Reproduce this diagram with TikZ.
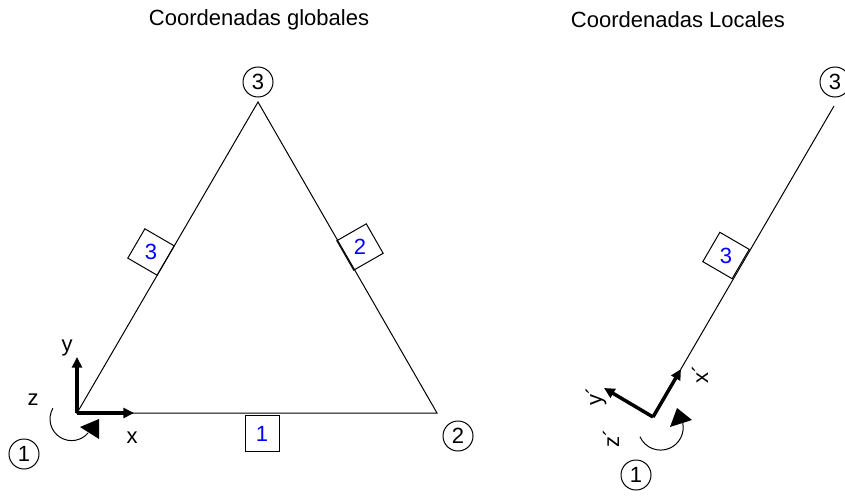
\documentclass[tikz,border=0pt]{standalone}
\usepackage{fontspec}
\setmainfont{Liberation Sans}
\usetikzlibrary{arrows.meta,shapes.geometric}
\begin{document}
\begin{tikzpicture}[x=0.75pt,y=-0.75pt,
  lbl/.style={font=\fontsize{16.5}{18}\selectfont, inner sep=0pt},
  nodecirc/.style={circle, draw, line width=0.75pt, minimum size=22.5pt, inner sep=0pt, font=\fontsize{16.5}{18}\selectfont},
  elembox/.style={regular polygon, regular polygon sides=4, draw, line width=0.75pt, minimum size=36pt, inner sep=0pt, text=blue, font=\fontsize{16.5}{18}\selectfont},
  member/.style={line width=0.75pt},
  axisarrow/.style={line width=2.6pt, -{Triangle[length=8pt,width=7.5pt]}},
  moment/.style={line width=0.75pt},
  momenthead/.style={fill=black}
]
\useasboundingbox (0,0) rectangle (845,496);
% titles
\node[lbl] (t1) at (259,20) {Coordenadas globales};
\node[lbl] (t2) at (678,20) {Coordenadas Locales};
% global element
\coordinate (g1) at (77,413);
\coordinate (g2) at (437,413);
\coordinate (g3) at (258,102);
\draw[member] (g1) -- (g2) -- (g3) -- cycle;
\node[nodecirc] (n3) at (258,82) {3};
\node[nodecirc] (n2) at (458,436) {2};
\node[nodecirc] (n1) at (24,454) {1};
\node[draw, line width=0.75pt, minimum width=25.5pt, minimum height=27.5pt, inner sep=0pt, text=blue, font=\fontsize{16.5}{18}\selectfont] (e1) at (262,433.5) {1};
\node[elembox, shape border rotate=-30.2] (e3) at (151,252) {3};
\node[elembox, shape border rotate=29.8] (e2) at (360,247) {2};
% global axes
\coordinate (gx) at (134,413);
\coordinate (gy) at (77,357);
\draw[axisarrow] (g1) -- (gx);
\draw[axisarrow] (g1) -- (gy);
\node[lbl] (ly) at (67,348) {y};
\node[lbl] (lx) at (132,438) {x};
\node[lbl] (lz) at (33,400) {z};
\coordinate (gm) at (71.6,419);
\draw[moment] (gm) ++(-150:21.6) arc[start angle=-150,end angle=-320,radius=21.6];
\fill[momenthead] (80,427) -- (99,419) -- (99,439) -- cycle;
% local element
\coordinate (l1) at (653,417);
\coordinate (l3) at (834,106);
\draw[member] (l1) -- (l3);
\node[nodecirc] (m3) at (835,82) {3};
\node[nodecirc] (m1) at (636,475) {1};
\node[elembox, shape border rotate=-30.2] (f3) at (726,255.5) {3};
\coordinate (lx') at (681,369);
\coordinate (ly') at (604,388);
\draw[axisarrow] (l1) -- (lx');
\draw[axisarrow] (l1) -- (ly');
\node[lbl, rotate=90] (llx) at (700,374) {x´};
\node[lbl, rotate=90] (lly) at (596,396) {y´};
\node[lbl, rotate=90] (llz) at (611,438) {z´};
\coordinate (lm) at (660.6,427.5);
\draw[moment] (lm) ++(-204:22.6) arc[start angle=-204,end angle=-371,radius=22.6];
\fill[momenthead] (670,427) -- (692,420) -- (677,408) -- cycle;
\end{tikzpicture}
\end{document}
